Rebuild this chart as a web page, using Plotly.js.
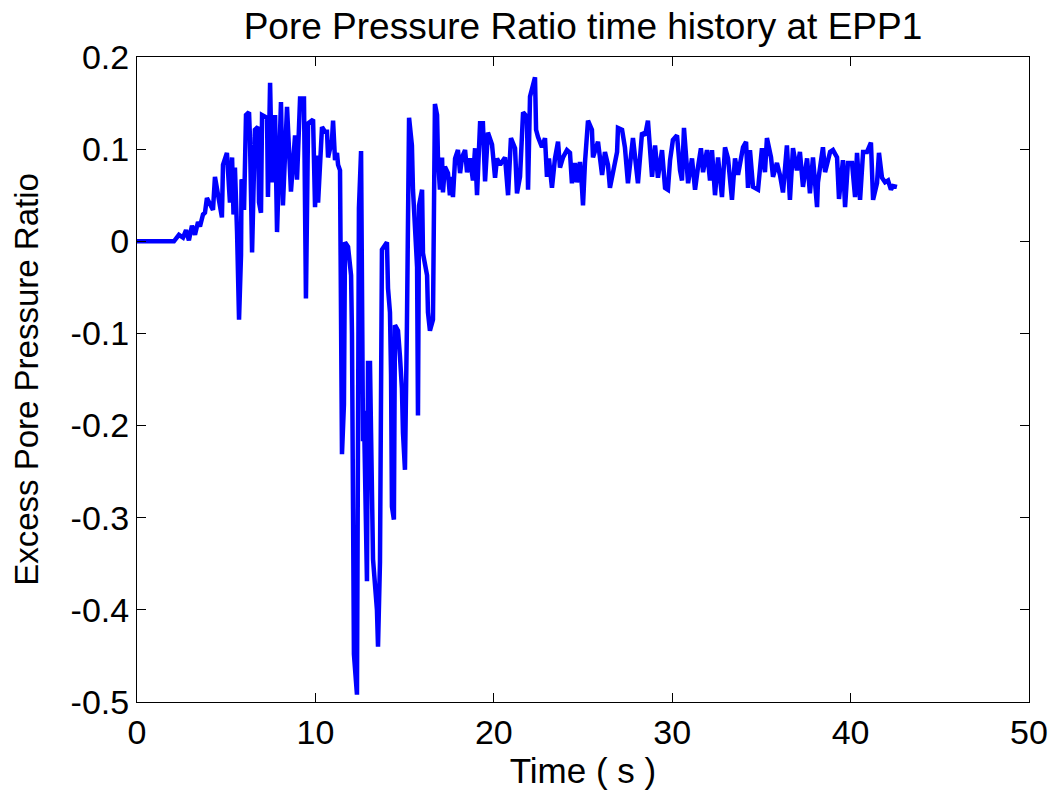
<!DOCTYPE html>
<html>
<head>
<meta charset="utf-8">
<script src="https://cdn.plot.ly/plotly-3.0.1.min.js"></script>
<style>
html,body{margin:0;padding:0;background:#fff;}
#chart{width:1053px;height:790px;}
</style>
</head>
<body>
<div id="chart"></div>
<script>
var timeS = [0,2.07,2.35,2.58,2.75,2.91,3.08,3.25,3.42,3.53,3.70,3.81,3.92,4.26,4.37,4.76,4.82,5.04,5.21,5.33,5.41,5.49,5.61,5.72,5.83,5.86,5.94,6.00,6.11,6.28,6.33,6.45,6.61,6.78,6.84,6.95,7.01,7.29,7.34,7.46,7.57,7.74,7.85,8.07,8.18,8.41,8.63,8.86,8.97,9.14,9.36,9.47,9.59,9.87,9.98,10.09,10.15,10.37,10.54,10.65,10.71,10.93,10.99,11.10,11.21,11.27,11.38,11.49,11.60,11.66,11.83,12.00,12.05,12.11,12.16,12.33,12.39,12.44,12.56,12.61,12.64,12.67,12.72,12.89,12.95,13.06,13.12,13.17,13.23,13.45,13.51,13.62,13.68,13.73,14.01,14.07,14.18,14.24,14.29,14.40,14.46,14.63,14.74,14.85,14.91,15.02,15.13,15.25,15.41,15.47,15.70,15.75,15.81,15.98,16.03,16.26,16.31,16.42,16.59,16.65,16.70,16.82,16.87,16.98,17.10,17.15,17.26,17.43,17.54,17.66,17.71,17.83,17.99,18.11,18.22,18.39,18.50,18.67,18.83,18.95,19.06,19.23,19.39,19.51,19.67,19.90,20.07,20.18,20.35,20.63,20.80,20.96,21.19,21.30,21.47,21.64,21.86,21.92,22.03,22.31,22.37,22.48,22.70,22.87,22.98,23.09,23.26,23.43,23.60,23.71,23.88,24.10,24.27,24.38,24.55,24.66,24.83,24.94,25.00,25.11,25.28,25.50,25.56,25.84,25.95,26.07,26.23,26.40,26.51,26.68,26.91,26.96,27.19,27.35,27.52,27.80,27.91,28.08,28.31,28.48,28.64,28.76,28.87,29.04,29.20,29.43,29.60,29.76,29.88,30.04,30.27,30.44,30.55,30.66,30.77,30.89,31.11,31.28,31.45,31.61,31.73,31.95,32.12,32.23,32.40,32.57,32.79,32.96,33.13,33.35,33.52,33.69,33.97,34.14,34.25,34.36,34.53,34.81,35.03,35.20,35.31,35.54,35.65,35.87,36.04,36.21,36.43,36.60,36.77,36.99,37.16,37.33,37.56,37.72,37.89,38.12,38.17,38.45,38.57,38.85,39.01,39.24,39.35,39.57,39.69,39.85,40.08,40.25,40.36,40.53,40.70,40.92,41.14,41.26,41.48,41.59,41.76,41.93,42.10,42.26,42.38,42.60];
var poreRatio = [0,0,0.007,0.004,0.012,0.001,0.017,0.007,0.021,0.016,0.029,0.031,0.047,0.034,0.070,0.026,0.083,0.096,0.042,0.091,0.029,0.080,0.009,-0.085,-0.015,0.067,0.065,0.034,0.137,0.140,0.113,-0.012,0.121,0.124,0.042,0.031,0.137,0.134,0.048,0.172,0.064,0.137,0.010,0.151,0.039,0.146,0.054,0.115,0.067,0.155,0.155,-0.062,0.128,0.132,0.037,0.093,0.042,0.124,0.119,0.119,0.091,0.110,0.131,0.088,0.096,0.083,0.077,-0.231,-0.177,-0.001,-0.006,-0.037,-0.101,-0.288,-0.448,-0.492,-0.269,0.036,0.098,-0.040,-0.208,-0.217,-0.184,-0.369,-0.132,-0.132,-0.208,-0.293,-0.345,-0.400,-0.440,-0.348,-0.208,-0.009,-0.001,-0.051,-0.077,-0.144,-0.288,-0.302,-0.091,-0.097,-0.125,-0.160,-0.208,-0.248,-0.092,0.134,0.104,0.056,-0.028,-0.189,0.039,0.056,-0.013,-0.037,-0.077,-0.097,-0.085,0.036,0.149,0.137,0.091,0.056,0.091,0.053,0.081,0.074,0.050,0.070,0.048,0.090,0.099,0.074,0.091,0.099,0.075,0.090,0.066,0.101,0.050,0.128,0.128,0.065,0.118,0.105,0.069,0.090,0.083,0.091,0.050,0.112,0.101,0.052,0.070,0.140,0.135,0.056,0.157,0.178,0.121,0.113,0.102,0.112,0.070,0.090,0.058,0.090,0.108,0.080,0.091,0.099,0.096,0.063,0.085,0.064,0.086,0.059,0.039,0.085,0.131,0.121,0.091,0.108,0.090,0.072,0.097,0.083,0.058,0.077,0.097,0.123,0.121,0.102,0.063,0.112,0.091,0.063,0.118,0.115,0.131,0.096,0.070,0.104,0.069,0.099,0.058,0.056,0.088,0.110,0.115,0.077,0.066,0.123,0.090,0.063,0.090,0.056,0.081,0.101,0.075,0.099,0.066,0.099,0.050,0.091,0.048,0.102,0.090,0.045,0.090,0.072,0.102,0.108,0.058,0.099,0.059,0.056,0.101,0.075,0.112,0.091,0.070,0.085,0.072,0.053,0.104,0.045,0.101,0.077,0.097,0.059,0.090,0.052,0.091,0.037,0.064,0.102,0.075,0.097,0.099,0.091,0.046,0.088,0.037,0.085,0.085,0.048,0.096,0.045,0.097,0.097,0.107,0.045,0.063,0.096,0.069,0.064,0.066,0.056,0.060,0.059];

var xTickVals = [0,10,20,30,40,50];
var xTickText = ['0','10','20','30','40','50'];
var yTickVals = [-0.5,-0.4,-0.3,-0.2,-0.1,0,0.1,0.2];
var yTickText = ['-0.5','-0.4','-0.3','-0.2','-0.1','0','0.1','0.2'];

var FONT = 'Liberation Sans, Arial, Helvetica, sans-serif';

var trace = {
  x: timeS,
  y: poreRatio,
  type: 'scatter',
  mode: 'lines',
  line: {color: '#0000ff', width: 4.5},
  hoverinfo: 'x+y'
};

var axisCommon = {
  showgrid: false,
  zeroline: false,
  showline: true,
  linecolor: '#000',
  linewidth: 1,
  mirror: 'ticks',
  ticks: 'inside',
  ticklen: 9,
  tickcolor: '#000',
  tickwidth: 1,
  tickfont: {family: FONT, size: 34, color: '#000'}
};

var layout = {
  width: 1053,
  height: 790,
  paper_bgcolor: '#fff',
  plot_bgcolor: '#fff',
  showlegend: false,
  margin: {l: 137, r: 24, t: 57, b: 88},
  title: {
    text: 'Pore Pressure Ratio time history at EPP1',
    font: {family: FONT, size: 37, color: '#000'},
    x: 0.5, xref: 'paper', xanchor: 'center',
    y: 0.967, yref: 'container', yanchor: 'middle'
  },
  xaxis: Object.assign({}, axisCommon, {
    range: [0, 50],
    tickmode: 'array',
    tickvals: xTickVals,
    ticktext: xTickText,
    title: {text: 'Time ( s )', font: {family: FONT, size: 35, color: '#000'}, standoff: 2}
  }),
  yaxis: Object.assign({}, axisCommon, {
    range: [-0.5, 0.2],
    tickmode: 'array',
    tickvals: yTickVals,
    ticktext: yTickText,
    title: {text: 'Excess Pore Pressure Ratio', font: {family: FONT, size: 33, color: '#000'}, standoff: 22}
  })
};

Plotly.newPlot('chart', [trace], layout, {displayModeBar: false, staticPlot: true});
</script>
</body>
</html>
